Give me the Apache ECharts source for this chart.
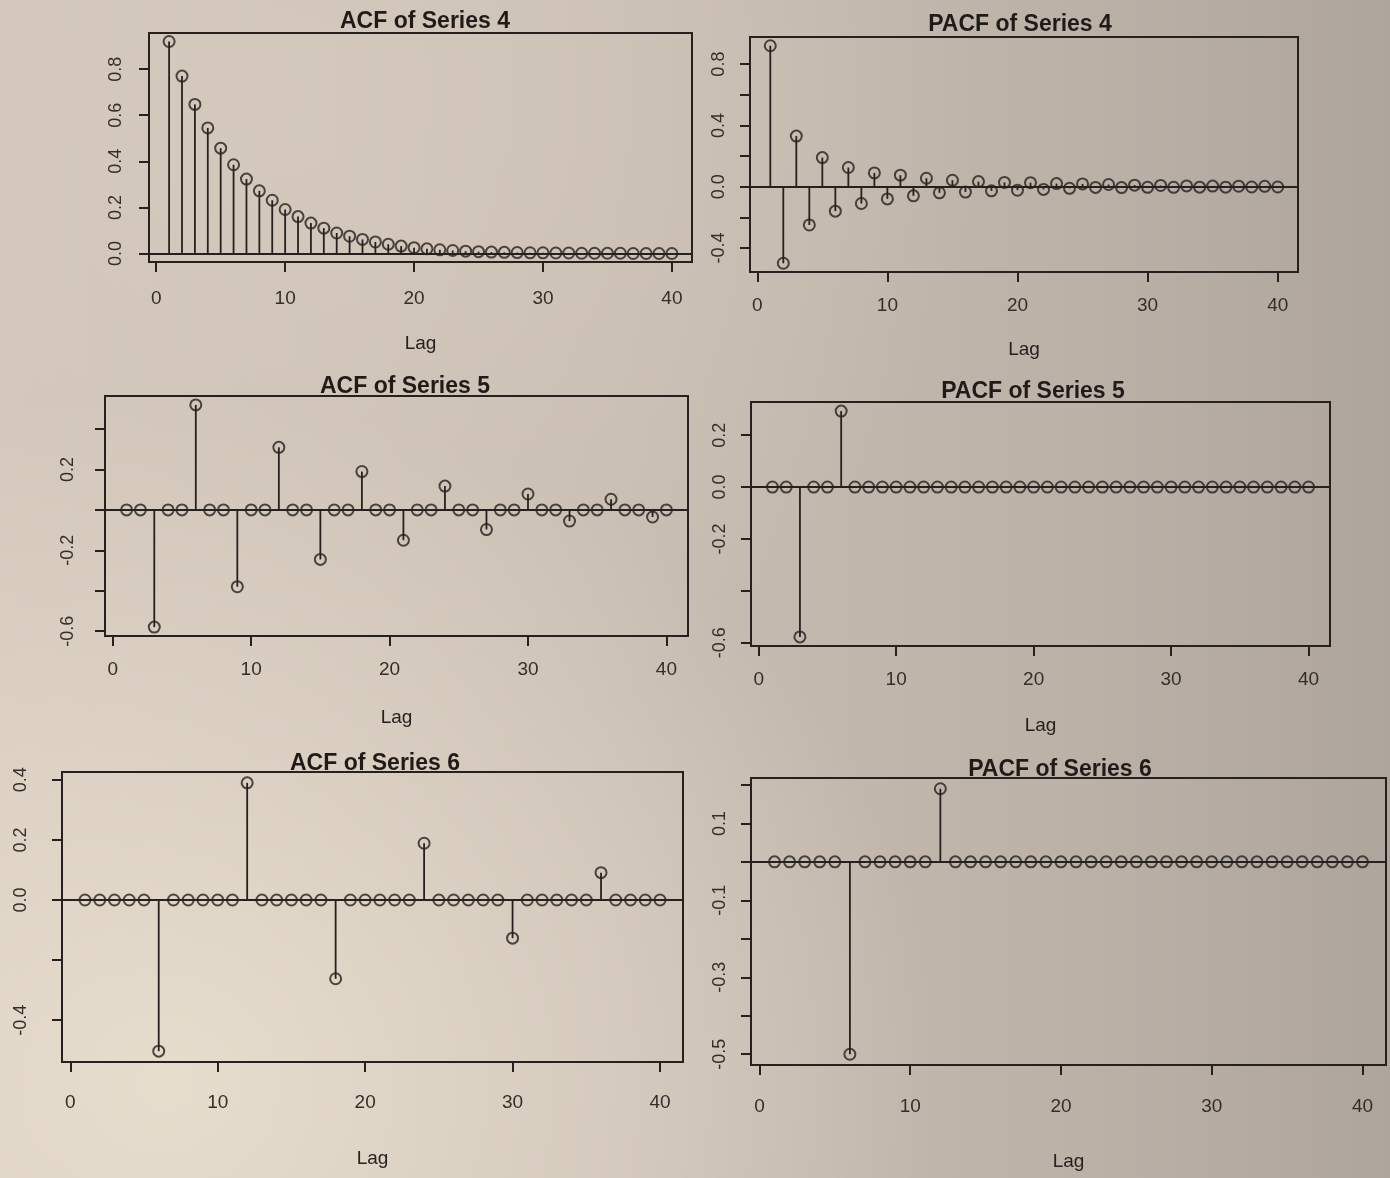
<!DOCTYPE html>
<html>
<head>
<meta charset="utf-8">
<title>ACF / PACF of Series 4-6</title>
<script src="https://cdn.jsdelivr.net/npm/echarts@6/dist/echarts.min.js"></script>
<style>
  html, body { margin: 0; padding: 0; }
  body {
    width: 1390px;
    height: 1178px;
    background:
      radial-gradient(ellipse at 12% 92%, rgba(232, 222, 206, 0.95) 0%, rgba(232, 222, 206, 0) 45%),
      radial-gradient(ellipse at 20% 8%, rgba(214, 202, 190, 0.8) 0%, rgba(214, 202, 190, 0) 45%),
      linear-gradient(90deg, #d3c7bb 0%, #c8bdb2 45%, #bbb1a7 78%, #aea59d 100%);
  }
  #chart { width: 1390px; height: 1178px; }
</style>
</head>
<body>
<div id="chart"></div>
<script>
const lags = [1, 2, 3, 4, 5, 6, 7, 8, 9, 10, 11, 12, 13, 14, 15, 16, 17, 18, 19, 20,
  21, 22, 23, 24, 25, 26, 27, 28, 29, 30, 31, 32, 33, 34, 35, 36, 37, 38, 39, 40]

const acf4 = [0.92, 0.77, 0.647, 0.545, 0.457, 0.385, 0.323, 0.272, 0.231, 0.191,
  0.16, 0.132, 0.11, 0.089, 0.075, 0.061, 0.05, 0.04, 0.032, 0.025,
  0.02, 0.016, 0.013, 0.01, 0.008, 0.006, 0.005, 0.004, 0.003, 0.003,
  0.002, 0.002, 0.001, 0.001, 0.001, 0.001, 0, 0, 0, 0]
const pacf4 = [0.92, -0.5, 0.33, -0.25, 0.19, -0.16, 0.125, -0.11, 0.09, -0.08,
  0.075, -0.06, 0.055, -0.04, 0.042, -0.035, 0.033, -0.027, 0.028, -0.023,
  0.026, -0.018, 0.02, -0.011, 0.018, -0.005, 0.014, -0.006, 0.01, -0.004,
  0.008, -0.004, 0.005, -0.003, 0.004, -0.003, 0.003, -0.002, 0.002, -0.002]
const acf5 = [0, 0, -0.58, 0, 0, 0.52, 0, 0, -0.38, 0,
  0, 0.31, 0, 0, -0.245, 0, 0, 0.19, 0, 0,
  -0.15, 0, 0, 0.118, 0, 0, -0.097, 0, 0, 0.079,
  0, 0, -0.055, 0, 0, 0.053, 0, 0, -0.035, 0]
const pacf5 = [0, 0, -0.578, 0, 0, 0.293, 0, 0, 0, 0,
  0, 0, 0, 0, 0, 0, 0, 0, 0, 0,
  0, 0, 0, 0, 0, 0, 0, 0, 0, 0,
  0, 0, 0, 0, 0, 0, 0, 0, 0, 0]
const acf6 = [0, 0, 0, 0, 0, -0.503, 0, 0, 0, 0,
  0, 0.39, 0, 0, 0, 0, 0, -0.262, 0, 0,
  0, 0, 0, 0.189, 0, 0, 0, 0, 0, -0.127,
  0, 0, 0, 0, 0, 0.091, 0, 0, 0, 0]
const pacf6 = [0, 0, 0, 0, 0, -0.5, 0, 0, 0, 0,
  0, 0.19, 0, 0, 0, 0, 0, 0, 0, 0,
  0, 0, 0, 0, 0, 0, 0, 0, 0, 0,
  0, 0, 0, 0, 0, 0, 0, 0, 0, 0]

// tick marks and the labels R kept (it drops overlapping ones)
const lagTicks = [0, 10, 20, 30, 40]
const acf4Ticks = [0, 0.2, 0.4, 0.6, 0.8]
const acf4Labels = [0, 0.2, 0.4, 0.6, 0.8]
const pacf4Ticks = [-0.4, -0.2, 0, 0.2, 0.4, 0.6, 0.8]
const pacf4Labels = [-0.4, 0, 0.4, 0.8]
const acf5Ticks = [-0.6, -0.4, -0.2, 0, 0.2, 0.4]
const acf5Labels = [-0.6, -0.2, 0.2]
const pacf5Ticks = [-0.6, -0.4, -0.2, 0, 0.2]
const pacf5Labels = [-0.6, -0.2, 0, 0.2]
const acf6Ticks = [-0.4, -0.2, 0, 0.2, 0.4]
const acf6Labels = [-0.4, 0, 0.2, 0.4]
const pacf6Ticks = [-0.5, -0.4, -0.3, -0.2, -0.1, 0, 0.1, 0.2]
const pacf6Labels = [-0.5, -0.3, -0.1, 0.1]

const INK = '#26211e'
const FONT = "'Liberation Sans', Arial, sans-serif"

// layout of the 6 panels (boxes in px), roughly straightened from the photo
const panels = [
  { title: 'ACF of Series 4', values: acf4, ticks: acf4Ticks, labels: acf4Labels, yMin: -0.037, yMax: 0.957,
    box: [149, 33, 543, 229], titlePos: [425, 22], xMargin: 27, yMargin: 24, lagGap: 72 },
  { title: 'PACF of Series 4', values: pacf4, ticks: pacf4Ticks, labels: pacf4Labels, yMin: -0.557, yMax: 0.977,
    box: [750, 37, 548, 235], titlePos: [1020, 25], xMargin: 24, yMargin: 22, lagGap: 68 },
  { title: 'ACF of Series 5', values: acf5, ticks: acf5Ticks, labels: acf5Labels, yMin: -0.624, yMax: 0.564,
    box: [105, 396, 583, 240], titlePos: [405, 387], xMargin: 24, yMargin: 28, lagGap: 72 },
  { title: 'PACF of Series 5', values: pacf5, ticks: pacf5Ticks, labels: pacf5Labels, yMin: -0.613, yMax: 0.328,
    box: [751, 402, 579, 244], titlePos: [1033, 392], xMargin: 24, yMargin: 22, lagGap: 70 },
  { title: 'ACF of Series 6', values: acf6, ticks: acf6Ticks, labels: acf6Labels, yMin: -0.539, yMax: 0.426,
    box: [62, 772, 621, 290], titlePos: [375, 764], xMargin: 31, yMargin: 32, lagGap: 87 },
  { title: 'PACF of Series 6', values: pacf6, ticks: pacf6Ticks, labels: pacf6Labels, yMin: -0.528, yMax: 0.218,
    box: [751, 778, 635, 287], titlePos: [1060, 770], xMargin: 32, yMargin: 22, lagGap: 87 }
]

const grid = []
const xAxis = []
const yAxis = []
const series = []
const graphic = []

panels.forEach((p, i) => {
  const points = lags.map((lag, k) => [lag, p.values[k]])
  grid.push({
    left: p.box[0], top: p.box[1], width: p.box[2], height: p.box[3],
    show: true, borderColor: INK, borderWidth: 2, backgroundColor: 'transparent'
  })
  xAxis.push({
    type: 'value', gridIndex: i, min: -0.56, max: 41.56,
    name: 'Lag', nameLocation: 'middle', nameGap: p.lagGap,
    nameTextStyle: { fontFamily: FONT, fontSize: 19, color: INK },
    axisLine: { show: false, onZero: false },
    axisTick: { show: true, length: 10, customValues: lagTicks, lineStyle: { color: INK, width: 2 } },
    axisLabel: { customValues: lagTicks, margin: p.xMargin, fontFamily: FONT, fontSize: 19, color: '#342e2a' },
    splitLine: { show: false }
  })
  yAxis.push({
    type: 'value', gridIndex: i, min: p.yMin, max: p.yMax,
    axisLine: { show: false, onZero: false },
    axisTick: { show: true, length: 10, customValues: p.ticks, lineStyle: { color: INK, width: 2 } },
    axisLabel: {
      customValues: p.labels, rotate: 90, margin: p.yMargin,
      fontFamily: FONT, fontSize: 18, color: '#342e2a',
      formatter: v => v.toFixed(1)
    },
    splitLine: { show: false }
  })
  // vertical stems from 0 to each value
  series.push({
    type: 'custom', xAxisIndex: i, yAxisIndex: i, data: points,
    renderItem: (params, api) => {
      const a = api.coord([api.value(0), 0])
      const b = api.coord([api.value(0), api.value(1)])
      return {
        type: 'line',
        shape: { x1: a[0], y1: a[1], x2: b[0], y2: b[1] },
        style: { stroke: INK, lineWidth: 1.8 }
      }
    },
    markLine: {
      silent: true, symbol: 'none', label: { show: false },
      lineStyle: { color: INK, width: 2.2, type: 'solid' },
      data: [{ yAxis: 0 }]
    },
    z: 2
  })
  series.push({
    type: 'scatter', xAxisIndex: i, yAxisIndex: i, data: points,
    symbol: 'circle', symbolSize: 11,
    itemStyle: { color: 'rgba(0,0,0,0)', borderColor: INK, borderWidth: 2 },
    z: 3
  })
  graphic.push({
    type: 'text', x: p.titlePos[0], y: p.titlePos[1],
    style: {
      text: p.title, fill: '#201b18', font: `bold 23px ${FONT}`,
      textAlign: 'center', textVerticalAlign: 'middle'
    }
  })
})

const chart = echarts.init(document.getElementById('chart'), null, { renderer: 'canvas' })
chart.setOption({
  backgroundColor: 'transparent',
  animation: false,
  grid, xAxis, yAxis, series, graphic
})
</script>
</body>
</html>
